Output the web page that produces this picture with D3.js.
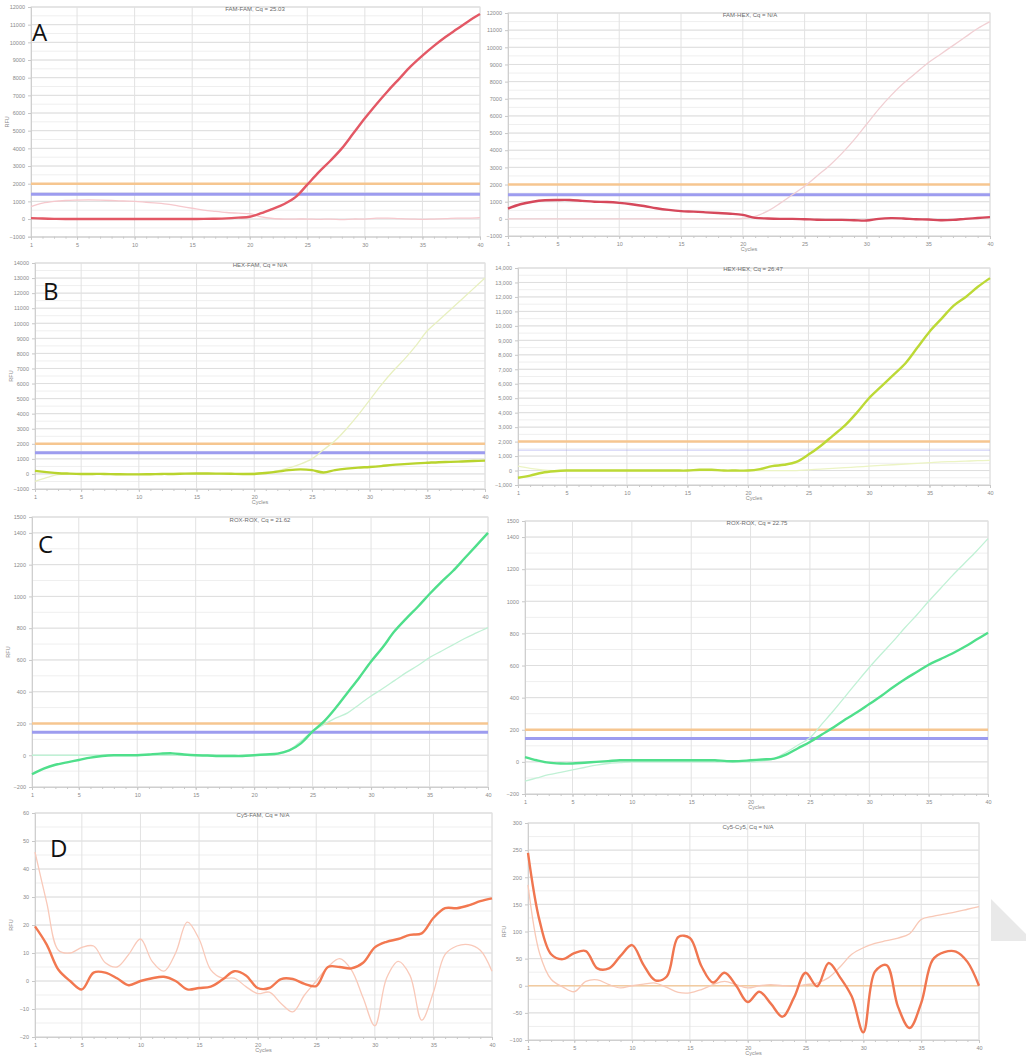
<!DOCTYPE html>
<html><head><meta charset="utf-8">
<script src="https://cdn.jsdelivr.net/npm/d3@7/dist/d3.min.js"></script>
<style>body{margin:0;background:#fff}svg{display:block}</style>
</head><body>
<svg id="c" width="1026" height="1058"></svg>
<script>
// ---------- DATA ----------
const cycles = [1,2,3,4,5,6,7,8,9,10,11,12,13,14,15,16,17,18,19,20,21,22,23,24,25,26,27,28,29,30,31,32,33,34,35,36,37,38,39,40];
const xTicks = [5,10,15,20,25,30,35,40];

const aTicks = [-1000,0,1000,2000,3000,4000,5000,6000,7000,8000,9000,10000,11000,12000];
const bTicks = [-1000,0,1000,2000,3000,4000,5000,6000,7000,8000,9000,10000,11000,12000,13000,14000];
const cTicks = [-200,0,200,400,600,800,1000,1200,1400,1500];
const dLeftTicks = [-20,-10,0,10,20,30,40,50,60];
const dRightTicks = [-100,-50,0,50,100,150,200,250,300];

const titles = ["FAM-FAM, Cq = 25.03","FAM-HEX, Cq = N/A","HEX-FAM, Cq = N/A","HEX-HEX, Cq = 26.47",
                "ROX-ROX, Cq = 21.62","ROX-ROX, Cq = 22.75","Cy5-FAM, Cq = N/A","Cy5-Cy5, Cq = N/A"];
const panelLetters = ["A","B","C","D"];

const aLeftMain  = [50,30,10,0,0,0,0,0,0,0,0,0,0,0,0,10,20,40,80,130,330,580,850,1250,1950,2650,3300,4000,4850,5700,6500,7250,7950,8650,9250,9800,10300,10750,11200,11600];
const aLeftFaint = [700,900,1000,1050,1070,1080,1070,1050,1020,1000,950,900,830,720,610,500,430,370,330,300,120,30,0,0,0,-20,0,-30,0,0,50,50,20,0,-20,0,20,50,50,80];
const aRightMain = [600,850,1000,1080,1100,1100,1050,1000,980,930,850,750,620,520,450,420,380,340,300,230,60,20,0,0,-20,-50,-60,-60,-80,-100,0,40,20,-20,-40,-80,-60,0,50,100];
const aRightFaint= [0,0,0,0,0,0,0,0,0,0,0,0,0,0,0,0,0,0,0,20,150,450,900,1400,1900,2500,3100,3800,4600,5500,6400,7200,7900,8500,9100,9600,10100,10600,11100,11500];
const bLeftMain  = [200,120,50,20,0,0,0,-20,-30,-30,-20,0,0,20,30,30,20,10,0,0,60,150,250,300,250,100,250,350,420,460,520,600,650,700,740,780,800,830,860,880];
const bLeftFaint = [-500,-250,-50,0,0,0,0,0,0,0,0,0,0,0,0,0,0,0,20,50,100,200,400,650,1000,1600,2200,3000,3900,4900,5900,6800,7600,8500,9500,10200,10900,11600,12300,13000];
const bRightMain = [-500,-350,-150,-50,0,0,0,0,0,0,0,0,0,0,0,50,50,0,0,0,100,300,400,600,1100,1700,2400,3100,4000,5000,5800,6600,7400,8500,9600,10500,11400,12000,12700,13300];
const bRightFaint= [300,150,50,0,0,0,0,0,0,0,0,0,0,0,0,0,0,0,0,0,0,0,0,0,50,100,150,200,250,300,350,400,450,500,550,600,620,650,680,700];
const cLeftMain  = [-120,-85,-60,-45,-30,-15,-5,0,0,0,5,10,12,5,0,-2,-5,-5,-5,0,5,10,30,75,150,215,300,395,490,590,680,780,860,935,1015,1090,1160,1240,1320,1400];
const cLeftFaint = [0,0,0,0,0,0,0,0,0,0,0,0,0,0,0,0,0,0,0,0,0,5,30,90,150,195,235,267,320,373,420,470,520,565,615,655,695,735,770,804];
const cRightMain = [30,10,-5,-10,-10,-5,0,5,10,10,10,10,10,10,10,10,10,5,5,10,15,20,45,85,124,170,215,265,310,360,410,465,515,560,605,640,675,715,760,804];
const cRightFaint= [-120,-100,-80,-65,-50,-35,-20,-10,-5,0,0,0,0,0,0,0,0,0,0,0,5,20,60,105,150,235,320,410,500,588,670,750,835,915,1000,1080,1160,1235,1310,1390];
const dLeftMain  = [19.5,13,4,0,-3,3,3,1,-1.5,0,1,1.5,0,-3,-2.5,-2,0.5,3.5,2,-2.5,-2.5,0.7,0.7,-1,-1.8,5,5,4.5,6.5,12,14,15,16.5,17,22.5,26,26,27,28.5,29.5];
const dLeftFaint = [46,28,11,10,12,12.5,6.5,5,9.5,15,7,3.5,10,21,15,4,1,1,-2,-4.5,-4,-8,-11,-5,0,5,8,4,-6,-16,1,7,2,-14,-4,9.5,12.5,13,11,3.5];
const dRightMain = [245,120,58,49,60,64,32,32,55,75,38,10,17,90,88,36,6,24,0,-30,-11,-33,-57,-22,24,-1,42,15,-20,-86,26,38,-39,-78,-32,48,62,63,44,0];
const dRightFaint= [186,60,12,-2,-11,8,11,2,-4,0,3,5,-3,-12,-13,-7,2,8,2,-4,0,2,0,-1,2,5,15,35,58,70,78,83,88,96,122,128,132,136,141,146];

const thrA = [2000,1400], thrB = [2000,1400], thrC = [200,145], thrD = [0];

// ---------- LAYOUT / STYLE ----------
const ORANGE = "#f6c690", BLUE = "#9d9cef";
const panels = [
 {x:[31,480], y:[236.7,7], dom:[-1000,12000], ticks:aTicks, half:500, main:aLeftMain, faint:aLeftFaint, mc:"#e35865", fc:"#f6c8cd", thr:thrA, blue:true, t:titles[0], tx:255, ty:11, ylab:true, xlab:false},
 {x:[508,990], y:[236,13], dom:[-1000,12000], ticks:aTicks, half:500, main:aRightMain, faint:aRightFaint, mc:"#d6485b", fc:"#f1cfd3", thr:thrA, blue:true, t:titles[1], tx:750, ty:17, ylab:false, xlab:true},
 {x:[35,485], y:[489,263], dom:[-1000,14000], ticks:bTicks, half:500, main:bLeftMain, faint:bLeftFaint, mc:"#b9d42e", fc:"#e8f0c0", thr:thrB, blue:true, t:titles[2], tx:260, ty:267, ylab:true, xlab:true},
 {x:[518,990], y:[485,268], dom:[-1000,14000], ticks:bTicks, half:500, main:bRightMain, faint:bRightFaint, mc:"#bcd936", fc:"#ecf4c4", thr:thrB, blue:"faint", t:titles[3], tx:753, ty:271, ylab:false, xlab:true, comma:true},
 {x:[32,488], y:[787,517], dom:[-200,1500], ticks:cTicks, half:100, main:cLeftMain, faint:cLeftFaint, mc:"#4fdf8b", fc:"#c0f1d5", thr:thrC, blue:true, t:titles[4], tx:260, ty:522, ylab:true, xlab:false},
 {x:[525,988], y:[794,521], dom:[-200,1500], ticks:cTicks, half:100, main:cRightMain, faint:cRightFaint, mc:"#4fdf8b", fc:"#c0f1d5", thr:thrC, blue:true, t:titles[5], tx:757, ty:525, ylab:false, xlab:true},
 {x:[35,492], y:[1037,813], dom:[-20,60], ticks:dLeftTicks, half:5, main:dLeftMain, faint:dLeftFaint, mc:"#f27850", fc:"#f9c9b9", thr:[], blue:false, t:titles[6], tx:263, ty:817, ylab:true, xlab:true},
 {x:[528,979], y:[1040,823], dom:[-100,300], ticks:dRightTicks, half:25, main:dRightMain, faint:dRightFaint, mc:"#f07650", fc:"#f8c8b6", thr:thrD, blue:false, t:titles[7], tx:748, ty:829, ylab:true, xlab:true, thrFaint:true}
];
const letters = [{t:panelLetters[0],x:32,y:41},{t:panelLetters[1],x:43,y:300},{t:panelLetters[2],x:38,y:553},{t:panelLetters[3],x:50,y:857}];

const svg = d3.select("#c");
svg.append("rect").attr("width",1026).attr("height",1058).attr("fill","#fff");

panels.forEach(p => {
  const x = d3.scaleLinear().domain([1,40]).range(p.x);
  const y = d3.scaleLinear().domain(p.dom).range(p.y);
  const g = svg.append("g");
  const minor = d3.range(p.dom[0], p.dom[1]+1e-9, p.half);
  g.selectAll(".mn").data(minor).enter().append("line")
    .attr("x1",p.x[0]).attr("x2",p.x[1]).attr("y1",d=>y(d)).attr("y2",d=>y(d))
    .attr("stroke","#efefef").attr("stroke-width",1);
  g.selectAll(".mj").data(p.ticks).enter().append("line")
    .attr("x1",p.x[0]).attr("x2",p.x[1]).attr("y1",d=>y(d)).attr("y2",d=>y(d))
    .attr("stroke","#dedede").attr("stroke-width",1);
  g.selectAll(".vg").data(xTicks).enter().append("line")
    .attr("x1",d=>x(d)).attr("x2",d=>x(d)).attr("y1",p.y[0]).attr("y2",p.y[1])
    .attr("stroke","#e2e2e2").attr("stroke-width",1);
  g.append("rect").attr("x",p.x[0]).attr("y",p.y[1]).attr("width",p.x[1]-p.x[0]).attr("height",p.y[0]-p.y[1])
    .attr("fill","none").attr("stroke","#e0e0e0");
  const fmt = p.comma ? d3.format(",") : d3.format("d");
  const ya = g.append("g").attr("transform",`translate(${p.x[0]},0)`)
    .call(d3.axisLeft(y).tickValues(p.ticks).tickSize(3).tickFormat(fmt));
  const xa = g.append("g").attr("transform",`translate(0,${p.y[0]})`)
    .call(d3.axisBottom(x).tickValues([1].concat(xTicks)).tickSize(3).tickFormat(d3.format("d")));
  g.append("g").attr("transform",`translate(0,${p.y[0]})`)
    .call(d3.axisBottom(x).tickValues(cycles).tickSize(2).tickFormat(""))
    .call(s=>s.select(".domain").remove());
  [ya,xa].forEach(a=>{
    a.selectAll("text").attr("font-size",5.5).attr("fill","#8a8a8a").attr("font-family","Liberation Sans, sans-serif");
    a.select(".domain").attr("stroke","#cfcfcf");
  });
  g.selectAll(".tick line").attr("stroke","#c8c8c8");
  if (p.thr.length) {
    g.append("line").attr("x1",p.x[0]).attr("x2",p.x[1]).attr("y1",y(p.thr[0])).attr("y2",y(p.thr[0]))
      .attr("stroke",ORANGE).attr("stroke-width",p.thrFaint?1.5:2.5).attr("opacity",p.thrFaint?0.8:1);
  }
  if (p.blue && p.thr.length > 1) {
    g.append("line").attr("x1",p.x[0]).attr("x2",p.x[1]).attr("y1",y(p.thr[1])).attr("y2",y(p.thr[1]))
      .attr("stroke",BLUE).attr("stroke-width",p.blue==="faint"?1.5:3).attr("opacity",p.blue==="faint"?0.35:1);
  }
  const line = d3.line().x((d,i)=>x(cycles[i])).y(d=>y(d)).curve(d3.curveCatmullRom.alpha(0.5));
  g.append("path").attr("d",line(p.faint)).attr("fill","none").attr("stroke",p.fc).attr("stroke-width",1.3);
  g.append("path").attr("d",line(p.main)).attr("fill","none").attr("stroke",p.mc).attr("stroke-width",2.4).attr("stroke-linejoin","round");
  g.append("text").attr("x",p.tx).attr("y",p.ty).attr("text-anchor","middle").attr("font-size",6)
    .attr("fill","#6a6a6a").attr("font-family","Liberation Sans, sans-serif").text(p.t);
  if (p.xlab) g.append("text").attr("x",(p.x[0]+p.x[1])/2).attr("y",p.y[0]+15).attr("text-anchor","middle")
    .attr("font-size",5.5).attr("fill","#8a8a8a").attr("font-family","Liberation Sans, sans-serif").text("Cycles");
  if (p.ylab) g.append("text").attr("transform",`translate(${p.x[0]-22},${(p.y[0]+p.y[1])/2}) rotate(-90)`)
    .attr("text-anchor","middle").attr("font-size",5.5).attr("fill","#8a8a8a").attr("font-family","Liberation Sans, sans-serif").text("RFU");
});

letters.forEach(l => {
  svg.append("text").attr("x",l.x).attr("y",l.y).attr("font-size",24).attr("fill","#111")
    .attr("font-family","Open Sans, Liberation Sans, sans-serif").text(l.t);
});
svg.append("path").attr("d","M991,899 L1026,934 L1026,941 L991,941 Z").attr("fill","#e9e9e9");
</script>
</body></html>
